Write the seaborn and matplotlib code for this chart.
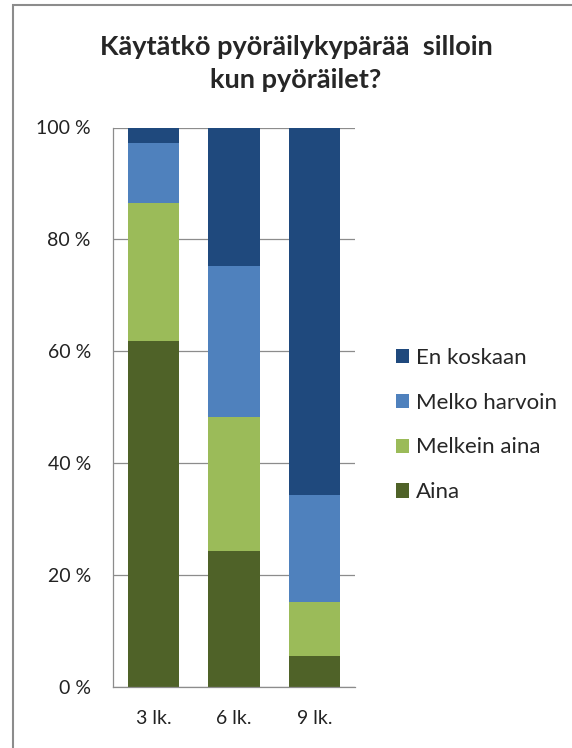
import numpy as np
import pandas as pd
import seaborn as sns
import matplotlib.pyplot as plt
from matplotlib.patches import Patch, Rectangle
from matplotlib.ticker import FuncFormatter

# values (percent of pupils per grade)
grades = ['3 lk.', '6 lk.', '9 lk.']
series = ['Aina', 'Melkein aina', 'Melko harvoin', 'En koskaan']
aina = [61.9, 24.4, 5.6]
melkein_aina = [24.7, 23.9, 9.6]
melko_harvoin = [10.7, 26.9, 19.2]
en_koskaan = [2.7, 24.8, 65.6]
colors = ['#4f6228', '#9bbb59', '#4f81bd', '#1f497d']
yticks = [0, 20, 40, 60, 80, 100]

sns.set_theme(style='white')
plt.rcParams['font.family'] = ['Lato', 'DejaVu Sans']

df = pd.DataFrame({
    'grade': grades,
    'Aina': aina,
    'Melkein aina': melkein_aina,
    'Melko harvoin': melko_harvoin,
    'En koskaan': en_koskaan,
})
# cumulative heights so the bars can be layered from the top segment down
cum = df[series].cumsum(axis=1)
cum['grade'] = df['grade']

fig = plt.figure(figsize=(5.72, 7.48), dpi=100)
ax = fig.add_axes([113 / 572, 1 - 687.3 / 748, 242 / 572, 559.8 / 748])

for name, color in reversed(list(zip(series, colors))):
    sns.barplot(data=cum, x='grade', y=name, color=color, width=0.64,
                saturation=1, linewidth=0, ax=ax, zorder=2)

ax.set_ylim(0, 100)
ax.set_xlim(-0.5, 2.5)
ax.set_yticks(yticks)
ax.yaxis.set_major_formatter(FuncFormatter(lambda v, p: f'{v:.0f} %'))
ax.set_xlabel('')
ax.set_ylabel('')
ax.grid(axis='y', color='#8c8c8c', linewidth=0.9, zorder=0)
ax.set_axisbelow(True)
for s in ['top', 'right']:
    ax.spines[s].set_visible(False)
for s in ['left', 'bottom']:
    ax.spines[s].set_color('#8c8c8c')
    ax.spines[s].set_linewidth(0.9)
ax.tick_params(axis='both', length=0, labelsize=14, colors='#222222')
ax.tick_params(axis='y', pad=16)
ax.tick_params(axis='x', pad=16)

handles = [Patch(facecolor=c, edgecolor='none') for c in reversed(colors)]
fig.legend(handles, list(reversed(series)), loc='center left',
           bbox_to_anchor=(396 / 572, 1 - 425 / 748), frameon=False,
           fontsize=16, handlelength=0.6, handleheight=0.6,
           handletextpad=0.3, labelspacing=1.12, borderpad=0, borderaxespad=0)

fig.text(296 / 572, 1 - 47 / 748, 'Käytätkö pyöräilykypärää  silloin',
         ha='center', va='center', fontsize=19.5, fontweight='bold')
fig.text(296 / 572, 1 - 80 / 748, 'kun pyöräilet?',
         ha='center', va='center', fontsize=19.5, fontweight='bold')

fig.patches.append(Rectangle((12.5 / 572, -0.1), 1.2, 1.1 - 4.5 / 748,
                             transform=fig.transFigure, fill=False,
                             edgecolor='#8c8c8c', linewidth=1.5))

fig.savefig('out.png', dpi=100)
